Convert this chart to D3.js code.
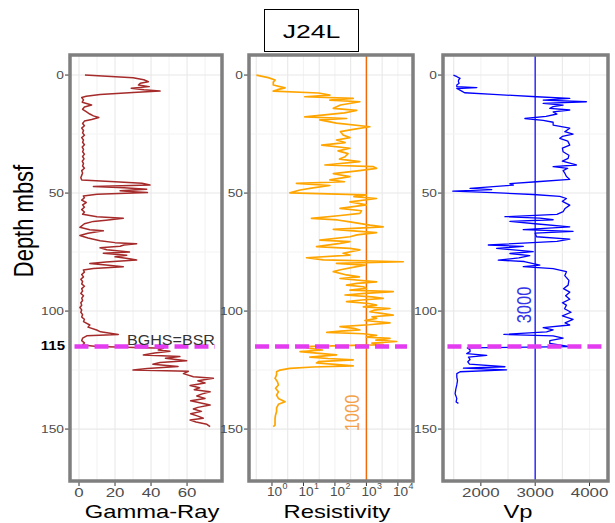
<!DOCTYPE html>
<html>
<head>
<meta charset="utf-8">
<script src="https://cdn.jsdelivr.net/npm/d3@7"></script>
<style>
  body { margin: 0; background: #fff; }
  svg text { font-family: "Liberation Sans", Arial, sans-serif; }
</style>
</head>
<body>
<div class="chart-container"></div>
<script>
// Log curves for well J24L, each point is [depth mbsf, value]
const gammaRay = [
  [0,3.3],[1.1,30],[2,36],[2.8,38.5],[3.5,34],[4.2,33],[4.9,39],[5.6,29],[6.2,36],[6.8,45],
  [7.4,30],[8.2,11.7],[9,4],[9.5,1.5],[10.5,2.5],[11.5,1.8],[12.7,7],[13.5,3],[14.5,2],[15.5,4],
  [16.5,6],[17.3,8],[18,11],[18.8,7],[19.5,3],[20.5,2],[21.5,3],[22.5,1.5],[23.5,2.5],[24.5,2],
  [25.5,3],[26.5,1.5],[27.5,2.5],[28.5,2],[29.5,3],[30.5,1.8],[31.5,2.5],[32.5,2],[33.5,3],[34.5,2],
  [35.5,2.8],[36.5,1.8],[37.5,2.5],[38.5,2],[39.5,3],[40.5,1.5],[41.5,2],[42.5,1.5],[43.5,1],[44.5,1.5],
  [45.2,20],[45.8,35],[46.6,39.4],[47.2,8],[47.8,25],[48.4,37.6],[49,22.8],[49.4,30],[49.8,38],[50.5,10],
  [51.2,2.4],[52,3],[53,1.5],[54,4],[55,2],[56,3],[57,1.5],[58,3],[59,2],[60,10],
  [60.7,24.6],[61.5,15],[62,8],[63,3],[64.5,0.5],[65.5,6],[66,13.5],[67,5],[68,0.5],[69,5],
  [70.2,11.7],[71,20],[71.5,32],[72,25],[72.5,22.8],[73.2,11.7],[74,15.4],[75,28],[75.5,13.5],[76.3,26.5],
  [77,20],[77.8,28],[78.4,32],[79.2,15],[79.8,6],[80.5,15],[81.2,24.6],[82,8],[82.6,2.4],[83.5,3],
  [84.5,1.5],[85.5,2.5],[86.5,1],[87.5,2],[88.5,1.5],[89.5,3],[90.5,1.5],[91.5,2],[92.5,1],[93.5,2.5],
  [94.5,1.5],[95.5,2],[96.5,1],[97.5,1.5],[98.5,0.5],[99.5,1.5],[100.5,1],[101.5,2],[102.5,1.5],[103.5,3],
  [104.5,2.5],[105.9,6],[106.8,5],[108,9.8],[108.8,12],[109.9,21.8],[110.5,4.3],[111.5,2],[112.5,1.5],[113.5,3],
  [114.4,2],[115,10],[115.8,46.9],[116.5,44],[117,50.5],[117.8,42],[118.6,35.7],[119.3,56],[120,48],[121,59.8],
  [121.8,45],[122.5,41],[123.5,55],[124.3,38],[125,30],[125.5,60.7],[126.5,58],[127.8,63.5],[128.5,74.6],[129.5,66],
  [130.5,70],[131.5,61.7],[132.5,67],[133.3,64],[134.2,72.8],[135.2,68],[136,65.4],[137,70],[138,62],[138.8,67],
  [139.8,72.8],[140.8,66],[141.5,63.5],[142.5,68],[143.5,62],[144.5,66],[145.4,69],[146.2,61.7],[147,65],[148,71],
  [149,72.8]
];

const resistivity = [
  [0,0.32],[1.1,0.76],[2.1,1.26],[3,1.1],[4.2,1.1],[5.4,2.6],[6.2,1.5],[6.8,1.1],[7.6,30],[8.5,69],
  [9.2,11],[9.9,380],[10.6,69],[11.3,620],[12.7,150],[14.1,89],[15,490],[16,200],[17.7,11],[18.4,234],
  [19,33],[20.4,112],[21.9,1290],[23,380],[24,150],[25.4,182],[26.5,300],[27.5,112],[28.6,210],[29.7,38],
  [31,300],[32.1,126],[33.3,260],[34.6,209],[35.6,140],[36.7,620],[38.1,48],[38.8,1660],[39.5,2090],[40.5,600],
  [41.8,89],[43,300],[44.4,69],[45.2,200],[45.9,6],[46.8,69],[47.8,20],[48.7,7.8],[49.9,3.7],[50.8,1000],
  [51.5,400],[52.3,2090],[53.7,300],[55,1000],[56.5,145],[57.5,700],[58.6,620],[59.5,150],[60.7,18],[61.4,120],
  [62.2,300],[63.6,1290],[64.3,3400],[65.4,89],[66.8,2090],[67.7,500],[68.5,300],[69.9,33],[70.6,300],[71.3,145],
  [72.7,26],[73.4,300],[74.1,620],[75.5,182],[76.3,300],[77.4,12.5],[78.3,43],[79.1,14800],[79.8,112],[80.5,900],
  [81.2,490],[82.5,150],[83.3,89],[84.7,234],[85.5,600],[86.2,145],[87.6,2090],[88.3,500],[89,234],[89.7,800],
  [90.4,1000],[91.1,300],[91.8,7100],[92.5,900],[93.2,209],[94,1500],[94.6,3400],[95.3,700],[96,234],[96.8,1200],
  [97.5,2090],[98.2,800],[98.9,5600],[99.6,1800],[100.3,1290],[101,3000],[101.7,7100],[102.4,1500],[103.1,2090],[104,900],
  [105,5600],[105.8,1200],[106.6,145],[107.3,400],[108,620],[108.5,150],[109,55],[109.6,800],[110.3,2090],[111,1000],
  [111.6,5600],[112.3,2000],[112.9,9100],[113.6,1500],[114.2,3400],[115.1,10],[115.8,16],[116.5,40],[117.2,7.8],[118,40],
  [118.6,112],[119.5,16],[120.1,60],[120.7,380],[121.4,30],[122,26],[122.6,100],[123.2,380],[123.7,20],[124.3,3.7],
  [125,1.8],[125.7,1.4],[127,1.4],[128.5,1.25],[130,1.5],[131.3,1.6],[132.7,1.3],[134.2,1.6],[135.6,1.4],[137,1.6],
  [138.4,2.6],[139.5,1.6],[141,1.4],[142.6,1.4],[144,1.3],[145.5,1.25],[147,1.25],[148.3,1.25],[149,1.1]
];

const vp = [
  [0,1495],[0.7,1560],[1.4,1617],[2.1,1590],[2.8,1587],[3.5,1600],[4.2,1557],[4.9,1557],[5.3,1926],[5.7,1557],
  [6.8,1649],[7.5,1700],[8.2,2229],[9.2,3024],[9.9,3636],[10.6,3147],[11.3,3942],[12,3147],[12.7,3514],[13.4,3330],
  [14.1,3269],[14.8,3636],[15.6,3330],[16.5,3400],[17.5,3200],[18.4,2810],[19.2,3147],[20,3330],[21.2,3330],[22.5,3636],
  [24,3544],[25,3697],[26,3500],[26.8,3453],[28,3600],[29.7,3636],[31,3500],[32.5,3514],[34,3620],[35.3,3606],
  [36.5,3500],[38.1,3758],[38.8,3330],[39.5,3600],[40.5,3514],[41.8,3550],[43,3575],[44.2,3636],[45.2,3024],[46,2535],
  [46.6,2600],[48,1801],[48.5,2200],[49.2,1483],[49.8,2229],[50.6,2963],[51.4,3453],[52.3,3575],[53.5,3500],[55.1,3636],
  [56.5,3550],[57.9,3514],[59,3400],[60,2443],[60.6,3086],[61.3,3330],[62,2535],[63,3000],[64.3,3636],[65.5,2780],
  [66.2,3697],[67,3000],[68.5,3024],[69.5,3636],[70.5,3400],[72,2137],[72.6,2780],[73.4,2290],[74.8,2963],[75.6,2535],
  [76.5,2900],[77.5,2700],[78.4,2321],[79,2800],[80.5,3086],[81.2,2780],[82,3330],[83.3,3575],[85,3544],[87,3620],
  [89,3606],[90.5,3520],[92,3636],[93.5,3560],[95,3636],[96.5,3500],[97.5,3575],[99,3540],[100.5,3660],[102,3500],
  [103.5,3697],[105,3550],[105.9,3636],[107,3147],[108,3330],[108.8,3208],[109.9,2424],[110.5,3330],[111.5,3514],[112.5,3270],
  [113.7,3269],[114.5,3500],[115.1,3636],[115.6,1751],[116.4,1800],[117.2,1801],[118,1740],[118.8,2107],[119.5,1771],[120.5,1800],
  [121.5,1760],[122.5,1790],[123.6,2443],[124.2,1679],[124.9,2474],[125.7,1618],[126.5,1557],[128,1557],[129.5,1570],[131.3,1557],
  [133,1540],[135,1526],[137,1557],[138.5,1545],[139.1,1587]
];

// Tick values and reference levels
const depthTicks = [0, 50, 100, 150];
const gammaTicks = [0, 20, 40, 60];
const resTicks = [1, 10, 100, 1000, 10000];
const vpTicks = [2000, 3000, 4000];
const bsrDepth = 115;
const resCutoff = 1000;
const vpCutoff = 3000;
const wellName = 'J24L';

const width = 615;
const height = 523;
const panelTop = 55;
const panelBottom = 481;
// the reference image is stretched sideways, so text is too
const sx = 1.25;

const svg = d3.select('.chart-container')
  .append('svg')
  .attr('width', width)
  .attr('height', height);

// Depth runs downward, shared by the three tracks
const yDepth = d3.scaleLinear().domain([-8.5, 172]).range([panelTop, panelBottom]);

const tracks = [
  {
    data: gammaRay, left: 70, right: 222, color: '#A52A2A', width: 1.5,
    x: d3.scaleLinear().domain([-5, 79.4]).range([70, 222]),
    grid: d3.range(0, 80, 10), ticks: gammaTicks, title: 'Gamma-Ray', titleX: 152,
    bsr: [-2.5, 75.5], yLabelRight: 64
  },
  {
    data: resistivity, left: 249, right: 413, color: '#FFA500', width: 1.7,
    x: d3.scaleLog().domain([Math.pow(10, -0.73), Math.pow(10, 4.48)]).range([249, 413]),
    grid: d3.range(-0.5, 4.5, 0.5).map(p => Math.pow(10, p)), ticks: resTicks, title: 'Resistivity', titleX: 337,
    bsr: [0.29, 19500], yLabelRight: 243, cutoff: resCutoff, cutColor: '#EE6A0A',
    cutText: '#F4A24A', cutLabel: {x: 359, y: 413}
  },
  {
    data: vp, left: 443, right: 608, color: '#0000FF', width: 1.3,
    x: d3.scaleLinear().domain([1303, 4340]).range([443, 608]),
    grid: d3.range(1500, 4500, 500), ticks: vpTicks, title: 'Vp', titleX: 518,
    bsr: [1385, 4230], yLabelRight: 437, cutoff: vpCutoff, cutColor: '#2E2EFF',
    cutText: '#3535E8', cutLabel: {x: 531, y: 305}
  }
];

// Adds a text that is stretched along x like the rest of the picture
function addText(parent, x, y, txt, opts) {
  const t = parent.append('text')
    .attr('transform', `translate(${x},${y}) scale(${opts.sx || sx},1)` + (opts.rotate ? ' rotate(-90)' : ''))
    .attr('text-anchor', opts.anchor || 'middle')
    .attr('font-size', opts.size)
    .attr('fill', opts.color || '#000')
    .text(txt);
  if (opts.bold) t.attr('font-weight', 'bold');
  return t;
}

const line = d3.line().curve(d3.curveLinear);

tracks.forEach(tr => {
  const g = svg.append('g');

  // panel background and grid
  g.append('rect')
    .attr('x', tr.left).attr('y', panelTop)
    .attr('width', tr.right - tr.left).attr('height', panelBottom - panelTop)
    .attr('fill', '#fff');

  g.selectAll('.vgrid')
    .data(tr.grid)
    .enter()
    .append('line')
    .attr('x1', d => tr.x(d)).attr('x2', d => tr.x(d))
    .attr('y1', panelTop).attr('y2', panelBottom)
    .attr('stroke', (d, i) => i % 2 ? '#F3F3F3' : '#E8E8E8')
    .attr('stroke-width', 1.1);

  g.selectAll('.hgrid')
    .data(d3.range(0, 175, 25))
    .enter()
    .append('line')
    .attr('x1', tr.left).attr('x2', tr.right)
    .attr('y1', d => yDepth(d)).attr('y2', d => yDepth(d))
    .attr('stroke', d => d % 50 ? '#F3F3F3' : '#E8E8E8')
    .attr('stroke-width', 1.1);

  // cutoff line behind the curve label
  if (tr.cutoff) {
    g.append('line')
      .attr('x1', tr.x(tr.cutoff)).attr('x2', tr.x(tr.cutoff))
      .attr('y1', panelTop).attr('y2', panelBottom)
      .attr('stroke', tr.cutColor)
      .attr('stroke-width', 1.5);
  }

  // the log curve itself
  g.append('path')
    .datum(tr.data)
    .attr('fill', 'none')
    .attr('stroke', tr.color)
    .attr('stroke-width', tr.width)
    .attr('stroke-linejoin', 'round')
    .attr('d', line.x(d => tr.x(d[1])).y(d => yDepth(d[0])));

  if (tr.cutoff) {
    addText(g, tr.cutLabel.x, tr.cutLabel.y, String(tr.cutoff),
      {size: 16.5, color: tr.cutText, rotate: true});
  }

  // BGHS = BSR level
  g.append('line')
    .attr('x1', tr.x(tr.bsr[0])).attr('x2', tr.x(tr.bsr[1]))
    .attr('y1', yDepth(bsrDepth)).attr('y2', yDepth(bsrDepth))
    .attr('stroke', '#E33CF0')
    .attr('stroke-width', 4.5)
    .attr('stroke-dasharray', '14,6');

  // panel frame
  g.append('rect')
    .attr('x', tr.left).attr('y', panelTop)
    .attr('width', tr.right - tr.left).attr('height', panelBottom - panelTop)
    .attr('fill', 'none')
    .attr('stroke', '#7F7F7F')
    .attr('stroke-width', 3.5);

  // depth ticks and labels
  g.selectAll('.ytick')
    .data(depthTicks)
    .enter()
    .append('line')
    .attr('x1', tr.left - 5).attr('x2', tr.left - 1.5)
    .attr('y1', d => yDepth(d)).attr('y2', d => yDepth(d))
    .attr('stroke', '#333');
  depthTicks.forEach(d => {
    addText(g, tr.yLabelRight, yDepth(d) + 4, d, {size: 11, anchor: 'end', color: '#4D4D4D'});
  });

  // bottom ticks and labels
  g.selectAll('.xtick')
    .data(tr.ticks)
    .enter()
    .append('line')
    .attr('x1', d => tr.x(d)).attr('x2', d => tr.x(d))
    .attr('y1', panelBottom + 1.5).attr('y2', panelBottom + 5)
    .attr('stroke', '#333');

  tr.ticks.forEach(d => {
    if (tr.x.base) {
      // powers of ten: a "10" and a separate raised exponent
      addText(g, tr.x(d) - 5, 496, '10', {size: 13, anchor: 'start', color: '#4D4D4D', sx: 1.05});
      addText(g, tr.x(d) + 10.5, 489, Math.round(Math.log10(d)), {size: 8.5, anchor: 'start', color: '#4D4D4D', sx: 1.05});
    } else {
      addText(g, tr.x(d), 497, d, {size: 13.5, color: '#4D4D4D'});
    }
  });

  addText(g, tr.titleX, 518, tr.title, {size: 19});
});

// BSR annotation in the gamma track
addText(svg, 215, 345, 'BGHS=BSR', {size: 14, anchor: 'end', color: '#333', sx: 1.15});
addText(svg, 65, yDepth(bsrDepth) + 4, bsrDepth, {size: 12, anchor: 'end', bold: true});

// shared depth axis title
addText(svg, 33, 221, 'Depth mbsf', {size: 22, rotate: true});

// well name box
svg.append('rect')
  .attr('x', 264.5).attr('y', 9.5)
  .attr('width', 94).attr('height', 42)
  .attr('fill', '#fff')
  .attr('stroke', '#000')
  .attr('stroke-width', 1);
addText(svg, 311.5, 38, wellName, {size: 19, sx: 1.4});
</script>
</body>
</html>
